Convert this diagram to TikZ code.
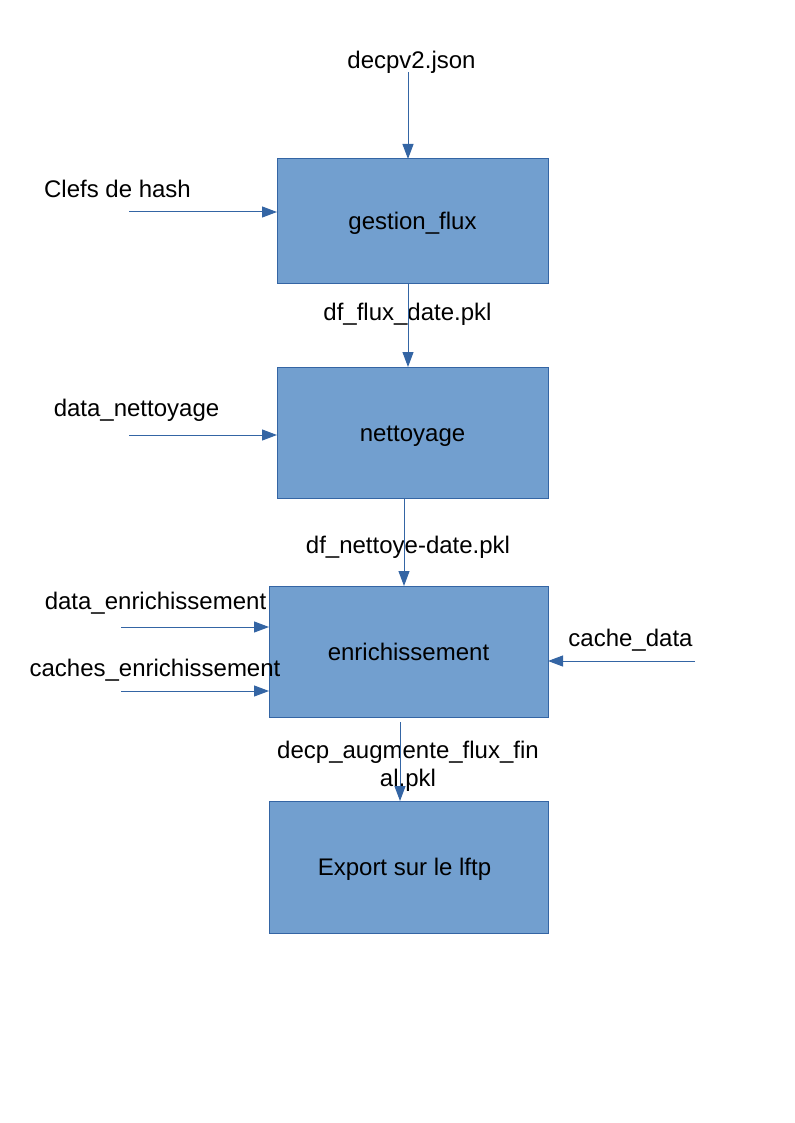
\documentclass[tikz,border=0pt]{standalone}
\usepackage{fontspec}
\setmainfont{Liberation Sans}
\usetikzlibrary{arrows.meta}
\definecolor{boxfill}{HTML}{729FCF}
\definecolor{boxline}{HTML}{3465A4}
\begin{document}
\begin{tikzpicture}[x=0.75pt,y=-0.75pt,
  every node/.style={font=\fontsize{18}{20.7}\selectfont, inner sep=0pt, outer sep=0pt},
  lbl/.style={text height=1.5em, text depth=0.17em},
  proc/.style={draw=boxline, fill=boxfill, line width=0.75pt, text height=1.5em, text depth=0.17em},
  arr/.style={draw=boxline, line width=0.75pt, -{Triangle[length=11.25pt,width=8.25pt]}}]
\useasboundingbox (0,0) rectangle (794,1123);
% boxes
\node[proc, minimum width=203.25pt, minimum height=93pt] (b1) at (412.5,221) {gestion\_flux};
\node[proc, minimum width=203.25pt, minimum height=98.25pt] (b2) at (412.5,432.5) {nettoyage};
\node[proc, minimum width=209.25pt, minimum height=98.25pt] (b3) at (408.5,651.5) {enrichissement};
\node[proc, minimum width=209.25pt, minimum height=99pt] (b4) at (408.5,867) {};
\node[lbl] (b4t) at (404.5,867) {Export sur le lftp};
% labels
\node[lbl] (json) at (411.5,60) {decpv2.json};
\node[lbl] (clefs) at (117.5,188.5) {Clefs de hash};
\node[lbl] (dfflux) at (407.5,312) {df\_flux\_date.pkl};
\node[lbl] (datanet) at (136.5,408) {data\_nettoyage};
\node[lbl] (dfnet) at (408,544.5) {df\_nettoye-date.pkl};
\node[lbl] (dataenr) at (155.5,601) {data\_enrichissement};
\node[lbl] (cachesenr) at (155,668) {caches\_enrichissement};
\node[lbl] (cachedata) at (630.5,637.5) {cache\_data};
\node[align=center] (decpfin) at (408,766.5) {decp\_augmente\_flux\_fin\\al.pkl};
% free ends
\coordinate (jsonS) at (408,72);
\coordinate (clefsS) at (129,212);
\coordinate (datanetS) at (129,435);
\coordinate (dataenrS) at (121,627);
\coordinate (cachesenrS) at (121,691);
\coordinate (cachedataS) at (695,661);
\coordinate (x12) at (408,0);
\coordinate (x23) at (404,0);
\coordinate (x34) at (400,0);
% connectors
\draw[arr] (jsonS) -- (jsonS |- b1.north);
\draw[arr] (clefsS) -- (clefsS -| b1.west);
\draw[arr] (x12 |- b1.south) -- (x12 |- b2.north);
\draw[arr] (datanetS) -- (datanetS -| b2.west);
\draw[arr] (x23 |- b2.south) -- (x23 |- b3.north);
\draw[arr] (dataenrS) -- (dataenrS -| b3.west);
\draw[arr] (cachesenrS) -- (cachesenrS -| b3.west);
\draw[arr] (cachedataS) -- (cachedataS -| b3.east);
\draw[arr, shorten <=3.75pt] (x34 |- b3.south) -- (x34 |- b4.north);
\end{tikzpicture}
\end{document}
